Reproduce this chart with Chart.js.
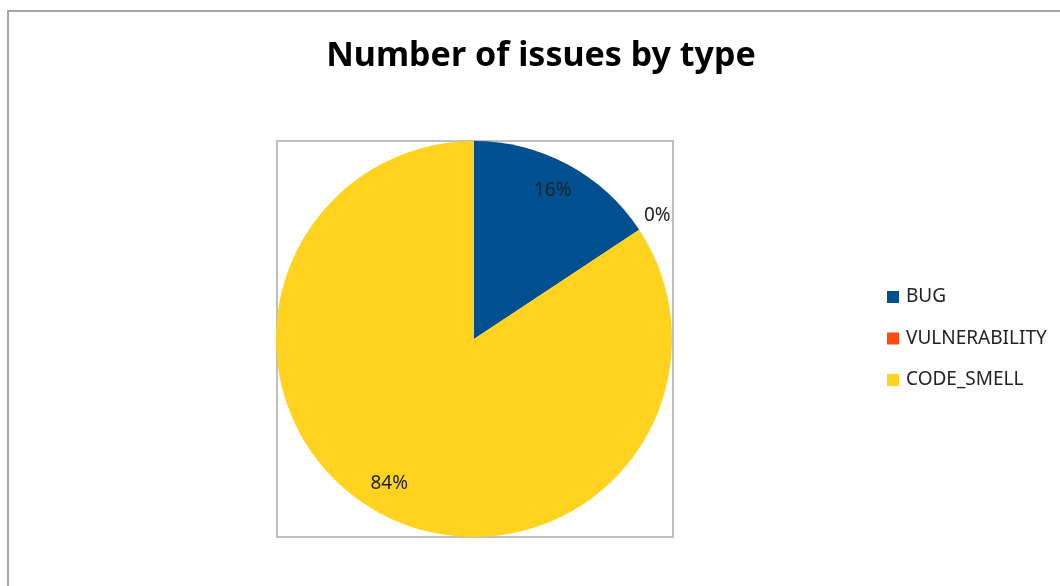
<!DOCTYPE html>
<html>
<head>
<meta charset="utf-8">
<script src="https://cdn.jsdelivr.net/npm/chart.js@4.4.0/dist/chart.umd.min.js"></script>
<style>
  html, body { margin:0; padding:0; background:#fff; }
  #wrap { width:1060px; height:586px; position:relative; }
</style>
</head>
<body>
<div id="wrap"><canvas id="pie" width="1060" height="586"></canvas></div>
<script>
// Number of issues by type — pie
const TITLE = 'Number of issues by type';
const LABELS = ['BUG', 'VULNERABILITY', 'CODE_SMELL'];
const COUNTS = [157, 0, 843];
const COLORS = ['#00508F', '#FF4A12', '#FFD320'];

const FONT = '"Noto Sans", "Open Sans", sans-serif';

// frame, title, legend and % labels drawn here
const decor = {
  id: 'decor',
  beforeDraw(chart) {
    const c = chart.ctx, a = chart.chartArea;
    c.save();
    c.fillStyle = '#fff';
    c.fillRect(0, 0, chart.width, chart.height);
    c.strokeStyle = '#A6A6A6';
    c.lineWidth = 2;
    c.strokeRect(8, 11, 1200, 800);
    c.strokeStyle = '#BFBFBF';
    c.strokeRect(a.left + 1, a.top, a.right - a.left, a.bottom - a.top);
    c.restore();
  },
  afterDraw(chart) {
    const c = chart.ctx;
    const meta = chart.getDatasetMeta(0);
    const total = COUNTS.reduce((s, v) => s + v, 0);
    c.save();
    // title
    c.fillStyle = '#000';
    c.font = 'bold 34px ' + FONT;
    c.textAlign = 'center';
    c.textBaseline = 'middle';
    c.fillText(TITLE, 541, 56);

    // slice labels
    c.font = '19px ' + FONT;
    c.fillStyle = '#222';
    meta.data.forEach((arc, i) => {
      const p = arc.getProps(['x', 'y', 'startAngle', 'endAngle', 'outerRadius']);
      const mid = (p.startAngle + p.endAngle) / 2;
      const k = COUNTS[i] === 0 ? 1.11 : 0.84;
      const x = p.x + Math.cos(mid) * p.outerRadius * k;
      const y = p.y + Math.sin(mid) * p.outerRadius * k;
      c.fillText(Math.round(COUNTS[i] / total * 100) + '%', x - (COUNTS[i] > 500 ? 6 : 0), y - 2);
    });

    // legend
    c.textAlign = 'left';
    LABELS.forEach((lab, i) => {
      const y = 296 + i * 41.5;
      c.fillStyle = COLORS[i];
      c.fillRect(887, y - 5, 12, 12);
      c.fillStyle = '#222';
      c.fillText(lab, 906, y + 1);
    });
    c.restore();
  }
};

new Chart(document.getElementById('pie'), {
  type: 'pie',
  data: {
    labels: LABELS,
    datasets: [{
      data: COUNTS,
      backgroundColor: COLORS,
      borderWidth: 0
    }]
  },
  options: {
    responsive: false,
    animation: false,
    layout: { padding: { left: 276, top: 141, right: 388, bottom: 49 } },
    plugins: {
      legend: { display: false },
      title: { display: false },
      tooltip: { enabled: false }
    }
  },
  plugins: [decor]
});
</script>
</body>
</html>
